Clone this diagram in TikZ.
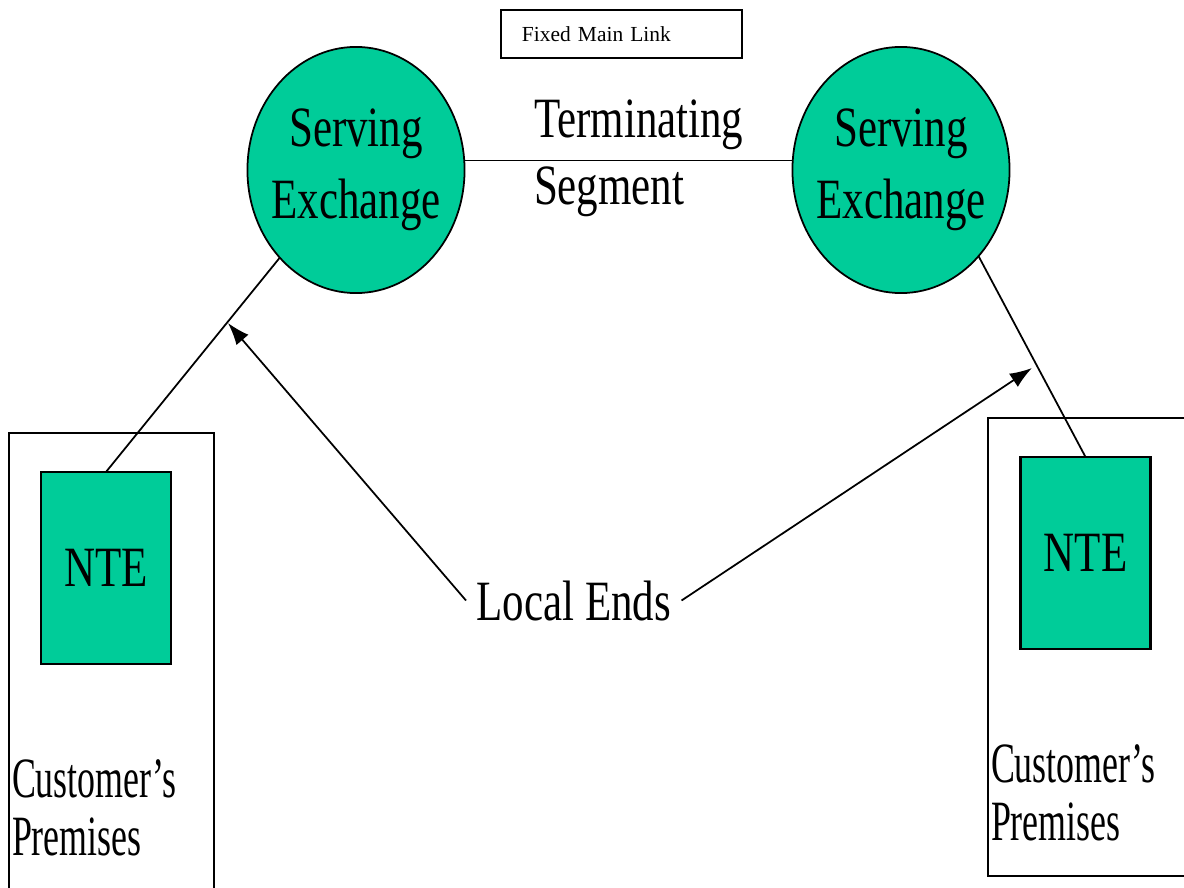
\documentclass[tikz,border=0pt]{standalone}
\usepackage{fontspec}
\setmainfont{Liberation Serif}
\newfontfamily\condfont[FakeStretch=0.754]{Liberation Serif}
\newfontfamily\narrowfont[FakeStretch=0.63]{Liberation Serif}
\usetikzlibrary{shapes.geometric,arrows.meta}
\definecolor{exgreen}{RGB}{0,204,153}

\begin{document}
\begin{tikzpicture}[x=0.01cm, y=-0.01cm]
\tikzset{ >={Latex[length=6.3pt,width=4.5pt]}, inner sep=0pt, outer sep=0pt,
  big/.style={font=\condfont\fontsize{16.2}{20.5}\selectfont},
  exch/.style={draw, line width=0.5pt, fill=exgreen, ellipse, minimum width=2.17cm, minimum height=2.46cm},
  nte/.style={big, draw, line width=0.6pt, fill=exgreen, minimum width=1.30cm, minimum height=1.92cm},
  prem/.style={draw, line width=0.6pt},
  premtext/.style={font=\narrowfont\fontsize{16.2}{16.3}\selectfont, align=left, anchor=base west},
  wire/.style={line width=0.5pt},
}

\useasboundingbox (0,0) rectangle (1184,888);

%\draw [lightgray, dashed](0,0) grid [step=100] (1184,888);

\node [prem, minimum width=2.05cm, minimum height=4.80cm] (PL) at (111.5,673) {};
\node [prem, minimum width=2.10cm, minimum height=4.58cm] (PR) at (1093,647) {};

\node [exch] (SL) at (356,170) {};
\node [exch] (SR) at (901,170) {};
\node [big, align=center] (SLt) at (SL) {Serving\\Exchange};
\node [big, align=center] (SRt) at (SR) {Serving\\Exchange};

\node [nte] (NL) at (106,568) {NTE};
\node [nte] (NR) at (1085.5,553) {NTE};

\node [draw, line width=0.6pt, minimum height=0.48cm, text width=1.99cm, inner xsep=0.21cm,
       align=left, font=\fontsize{6.1}{7}\selectfont] (FM) at (621.5,34) {Fixed Main Link};

% base anchor sits on the last line
\node [big, align=left, anchor=base west, font=\condfont\fontsize{16.2}{19.1}\selectfont] (TS) at (534,205) {Terminating\\Segment};
\node [big, anchor=base west, inner sep=3pt] (LE) at (466,620) {Local Ends};

\node [premtext] (CL) at (12,855) {Customer’s\\Premises};
\node [premtext] (CR) at (991,840) {Customer’s\\Premises};

\coordinate (AL) at (228,323);
\coordinate (AR) at (1032,368);

\draw [wire] (SL.5) -- (SR.175);
\draw [wire] (NL.north) -- (SL.-131);
\draw [wire] (NR.north) -- (SR.-48);
\draw [->, wire] (LE.west) -- (AL);
\draw [->, wire] (LE.east) -- (AR);
\end{tikzpicture}
\end{document}
